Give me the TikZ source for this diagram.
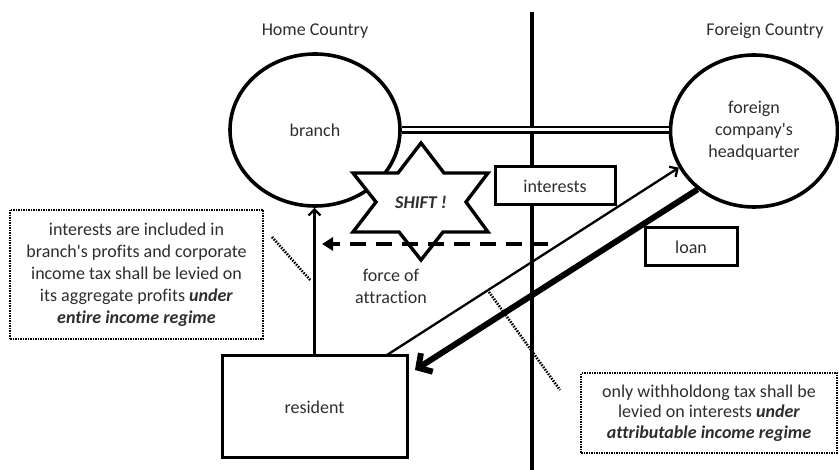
\documentclass[tikz,border=0pt]{standalone}
\usepackage{fontspec}
\setmainfont{Carlito}[Ligatures={TeXOff,CommonOff}]
\usetikzlibrary{arrows.meta,shapes.geometric}
\begin{document}
\begin{tikzpicture}[x=1pt,y=-1pt,
  every node/.style={font=\fontsize{18}{22}\selectfont, text=black!82, inner sep=0pt, align=center},
  entity/.style={draw, line width=3.6pt, ellipse, fill=white},
  plainbox/.style={draw, line width=3pt, fill=white},
  notebox/.style={draw, line width=2.6pt, dash pattern=on 1.5pt off 1pt, fill=white},
  callout/.style={line width=2.6pt, dash pattern=on 1.5pt off 1.3pt},
  flow/.style={line width=2.3pt, -{Straight Barb[length=6pt,width=12pt]}},
  ]
\useasboundingbox (0,0) rectangle (839,470);

% country captions
\node (home) at (315,31) {Home Country};
\node (foreign) at (765,31) {Foreign Country};

% border between the two countries
\coordinate (bordertop) at (532,12);
\coordinate (borderbot) at (532,470);
\draw[line width=4pt] (bordertop) -- (borderbot);

% entities
\node[entity, minimum width=170pt, minimum height=152pt] (branch) at (315,130) {branch};
\node[entity, minimum width=167pt, minimum height=152pt] (hq) at (754,131) {foreign\\company's\\headquarter};
\draw[line width=2.6pt, double, double distance=3pt] (branch.east) -- (hq.west |- branch.east);

\node[plainbox, minimum width=185pt, minimum height=102pt] (resident) at (314.5,407) {resident};

% payment flows
\draw[flow] (resident.north) -- (resident.north |- branch.south);
\coordinate (paystart) at (387,355);
\draw[flow] (paystart) -- (hq.206);
\coordinate (loanend) at (415,370);
\draw[line width=6pt, -{Straight Barb[length=10pt,width=22pt]}] (hq.226) -- (loanend);

\node[plainbox, minimum width=120pt, minimum height=38pt] (interests) at (555,186) {interests};
\node[plainbox, minimum width=92pt, minimum height=38pt] (loan) at (691,247) {loan};

% shift star
\draw[line width=3.4pt, fill=white, line join=miter]
  (421,143) -- (444,173) -- (488,173) -- (466,202) -- (488,232) -- (443,232) --
  (421,260) -- (399,232) -- (353,232) -- (376,202) -- (353,173) -- (398,173) -- cycle;
\node[font=\fontsize{18}{22}\selectfont\bfseries\itshape] (shift) at (421,202) {SHIFT !};

% force of attraction
\coordinate (pullstart) at (548,244);
\coordinate (pullend) at (322,244);
\draw[line width=4pt, dash pattern=on 16pt off 10pt, -{Triangle[length=11pt,width=13pt]}] (pullstart) -- (pullend);
\node (force) at (391,286) {force of\\attraction};

% explanatory notes
\node[notebox, minimum width=253pt, minimum height=129pt] (note1) at (136.5,274.5)
  {interests are included in\\branch's profits and corporate\\income tax shall be levied on\\its aggregate profits \textbf{\textit{under}}\\\textbf{\textit{entire income regime}}};
\node[notebox, minimum width=256pt, minimum height=80pt, font=\fontsize{18}{20.5}\selectfont] (note2) at (709,413)
  {only withholdong tax shall be\\levied on interests \textbf{\textit{under}}\\\textbf{\textit{attributable income regime}}};

\coordinate (c1a) at (272,237);
\coordinate (c1b) at (311,281);
\draw[callout] (c1a) -- (c1b);
\coordinate (c2a) at (489,292);
\coordinate (c2b) at (560,390);
\draw[callout] (c2a) -- (c2b);
\end{tikzpicture}
\end{document}
